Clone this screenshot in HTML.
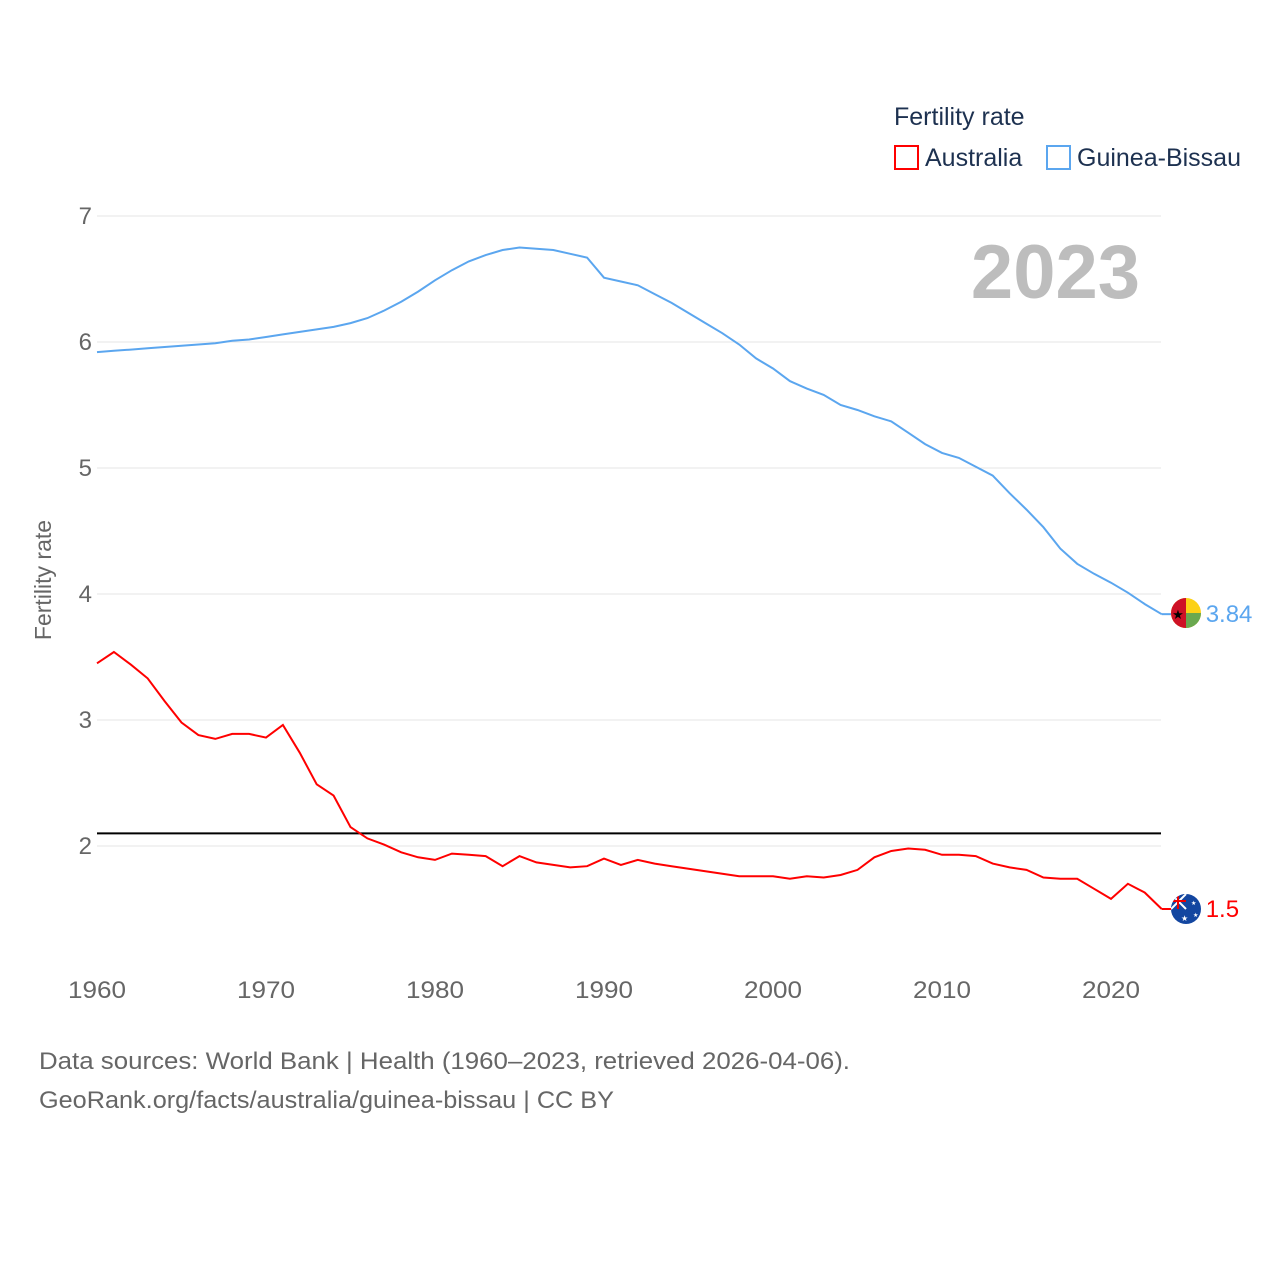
<!DOCTYPE html>
<html><head><meta charset="utf-8"><style>
body{margin:0;background:#fff;}
svg{display:block;font-family:"Liberation Sans",sans-serif;}
</style></head><body>
<svg id="chart" width="1280" height="1280" viewBox="0 0 1280 1280">
<defs>
<clipPath id="flagclip-gb"><circle cx="1186" cy="613" r="15"/></clipPath>
<clipPath id="flagclip-au"><circle cx="1186" cy="909" r="15"/></clipPath>
</defs>
<rect width="1280" height="1280" fill="#fff"/>
<g id="grid"></g>
<text x="1140" y="298" text-anchor="end" font-size="76" font-weight="bold" fill="#bdbdbd">2023</text>
<text x="894" y="125" font-size="25" fill="#1d3150">Fertility rate</text>
<g><rect x="895" y="146" width="23" height="23" fill="none" stroke="#f00" stroke-width="2"/><text x="925" y="166" font-size="25" fill="#1d3150">Australia</text></g>
<g><rect x="1047" y="146" width="23" height="23" fill="none" stroke="#5ba6ef" stroke-width="2"/><text x="1077" y="166" font-size="25" fill="#1d3150">Guinea-Bissau</text></g>
<text transform="translate(51,580) rotate(-90)" text-anchor="middle" font-size="23" fill="#666">Fertility rate</text>
<g id="series"></g>
<g clip-path="url(#flagclip-gb)">
<rect x="1171" y="598" width="30" height="30" fill="#fcd116"/>
<rect x="1186" y="613" width="15" height="15" fill="#6aa84f"/>
<rect x="1171" y="598" width="15" height="30" fill="#ce1126"/>
<text x="1178" y="619" text-anchor="middle" font-size="13" fill="#000">★</text>
</g>
<g clip-path="url(#flagclip-au)">
<rect x="1171" y="894" width="30" height="30" fill="#1346a0"/>
<rect x="1171" y="894" width="15" height="15" fill="#1346a0"/>
<line x1="1171" y1="894" x2="1186" y2="909" stroke="#fff" stroke-width="2"/>
<line x1="1186" y1="894" x2="1171" y2="909" stroke="#fff" stroke-width="2"/>
<line x1="1178" y1="894" x2="1178" y2="909" stroke="#e00" stroke-width="2"/>
<line x1="1171" y1="901" x2="1186" y2="901" stroke="#e00" stroke-width="2"/>
<text x="1181" y="921" font-size="8" fill="#fff">★</text>
<text x="1191" y="905" font-size="6" fill="#fff">★</text>
<text x="1193" y="917" font-size="6" fill="#fff">★</text>
</g>
<text x="39" y="1069" font-size="24" fill="#666" textLength="811" lengthAdjust="spacingAndGlyphs">Data sources: World Bank | Health (1960–2023, retrieved 2026-04-06).</text>
<text x="39" y="1108" font-size="24" fill="#666" textLength="575" lengthAdjust="spacingAndGlyphs">GeoRank.org/facts/australia/guinea-bissau | CC BY</text>
</svg>
<script>
const years = [];
for (let y = 1960; y <= 2023; y++) years.push(y);
const guineaBissau = [5.92,5.93,5.94,5.95,5.96,5.97,5.98,5.99,6.01,6.02,6.04,6.06,6.08,6.10,6.12,6.15,6.19,6.25,6.32,6.40,6.49,6.57,6.64,6.69,6.73,6.75,6.74,6.73,6.70,6.67,6.51,6.48,6.45,6.38,6.31,6.23,6.15,6.07,5.98,5.87,5.79,5.69,5.63,5.58,5.50,5.46,5.41,5.37,5.28,5.19,5.12,5.08,5.01,4.94,4.80,4.67,4.53,4.36,4.24,4.16,4.09,4.01,3.92,3.84];
const australia = [3.45,3.54,3.44,3.33,3.15,2.98,2.88,2.85,2.89,2.89,2.86,2.96,2.74,2.49,2.40,2.15,2.06,2.01,1.95,1.91,1.89,1.94,1.93,1.92,1.84,1.92,1.87,1.85,1.83,1.84,1.90,1.85,1.89,1.86,1.84,1.82,1.80,1.78,1.76,1.76,1.76,1.74,1.76,1.75,1.77,1.81,1.91,1.96,1.98,1.97,1.93,1.93,1.92,1.86,1.83,1.81,1.75,1.74,1.74,1.66,1.58,1.70,1.63,1.50];
const yTicks = [2,3,4,5,6,7];
const xTicks = [1960,1970,1980,1990,2000,2010,2020];
const replacementRate = [2.1];
const NS = "http://www.w3.org/2000/svg";
const xs = yr => 97 + (yr - 1960) * 16.9;
const ys = v => 216 + (7 - v) * 126;
const grid = document.getElementById('grid');
const series = document.getElementById('series');
function mk(tag, attrs, parent){const e=document.createElementNS(NS,tag);for(const k in attrs)e.setAttribute(k,attrs[k]);parent.appendChild(e);return e;}
yTicks.forEach(t=>{
  const l=mk('line',{x1:97,x2:1161,y1:ys(t),y2:ys(t),stroke:'#e6e6e6','stroke-width':1},grid);
  
  
  const tx=mk('text',{x:92,y:ys(t)+8,'text-anchor':'end','font-size':24,fill:'#666'},grid);
  tx.textContent=t;
  
  
});
xTicks.forEach(t=>{
  const tx=mk('text',{x:xs(t),y:998,'text-anchor':'middle','font-size':24,fill:'#666',textLength:58,lengthAdjust:'spacingAndGlyphs'},grid);
  tx.textContent=t;
  
  
});
replacementRate.forEach(v=>{
  const l=mk('line',{x1:97,x2:1161,y1:ys(v),y2:ys(v),stroke:'#000','stroke-width':2},series);
  
  
});
function drawLine(vals,color,name){
  const d=vals.map((v,i)=>(i?'L':'M')+xs(years[i]).toFixed(1)+','+ys(v).toFixed(1)).join('');
  const p=mk('path',{d:d,fill:'none',stroke:color,'stroke-width':2},series);
  
  
  const last=vals[vals.length-1], lx=xs(years[years.length-1]), ly=ys(last);
  mk('line',{x1:lx,x2:lx+12,y1:ly,y2:ly,stroke:color,'stroke-width':2},series);
  const t=mk('text',{x:lx+44,y:ly+8,'font-size':24,fill:color},series);
  t.textContent=last;
  
  
}
drawLine(guineaBissau,'#5ba6ef','guinea-bissau');
drawLine(australia,'#f00','australia');
</script>
</body></html>
